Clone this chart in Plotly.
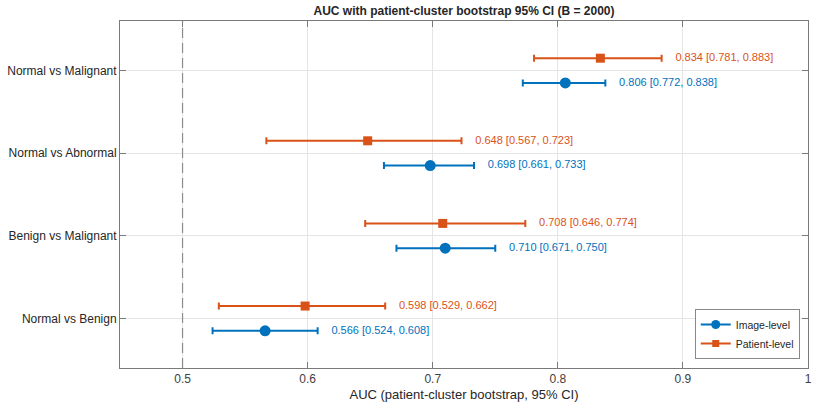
import plotly.graph_objects as go

categories = ["Normal vs Benign", "Benign vs Malignant", "Normal vs Abnormal", "Normal vs Malignant"]
img_auc = [0.566, 0.710, 0.698, 0.806]
img_lo = [0.524, 0.671, 0.661, 0.772]
img_hi = [0.608, 0.750, 0.733, 0.838]
pat_auc = [0.598, 0.708, 0.648, 0.834]
pat_lo = [0.529, 0.646, 0.567, 0.781]
pat_hi = [0.662, 0.774, 0.723, 0.883]
x_ticks = [0.5, 0.6, 0.7, 0.8, 0.9, 1.0]
x_tick_labels = ["0.5", "0.6", "0.7", "0.8", "0.9", "1"]

BLUE = "#0072BD"
ORANGE = "#D95319"
FONT = "Liberation Sans, Arial, Helvetica, sans-serif"

pos = list(range(1, len(categories) + 1))
y_img = [p - 0.15 for p in pos]
y_pat = [p + 0.15 for p in pos]

fig = go.Figure()

def add_series(auc, lo, hi, ys, color, symbol, size, name):
    fig.add_trace(go.Scatter(
        x=auc, y=ys, mode="markers", showlegend=False,
        marker=dict(color=color, symbol=symbol, size=size, line=dict(width=0)),
        error_x=dict(type="data", symmetric=False,
                     array=[h - a for h, a in zip(hi, auc)],
                     arrayminus=[a - l for a, l in zip(auc, lo)],
                     color=color, thickness=2, width=3.5),
        hoverinfo="skip"))
    fig.add_trace(go.Scatter(
        x=[h + 0.011 for h in hi], y=ys, mode="text",
        text=[f"{a:.3f} [{l:.3f}, {h:.3f}]" for a, l, h in zip(auc, lo, hi)],
        textposition="middle right", showlegend=False,
        textfont=dict(color=color, size=11, family=FONT), hoverinfo="skip"))
    fig.add_trace(go.Scatter(
        x=[None], y=[None], mode="lines+markers", name=name,
        line=dict(color=color, width=2),
        marker=dict(color=color, symbol=symbol, size=size - 2)))

add_series(img_auc, img_lo, img_hi, y_img, BLUE, "circle", 11, "Image-level")
add_series(pat_auc, pat_lo, pat_hi, y_pat, ORANGE, "square", 9, "Patient-level")

fig.add_shape(type="line", xref="x", yref="paper", x0=0.5, x1=0.5, y0=0, y1=1,
              line=dict(color="#8c8c8c", width=1.2, dash="10px,5px"), layer="above")

fig.update_layout(
    width=818, height=410,
    margin=dict(l=120, r=10, t=21, b=42, autoexpand=False),
    paper_bgcolor="white", plot_bgcolor="white",
    font=dict(family=FONT, size=11, color="#262626"),
    title=dict(text="<b>AUC with patient-cluster bootstrap 95% CI (B = 2000)</b>",
               x=0.5, xref="paper", xanchor="center",
               y=1 - 11 / 410, yref="container", yanchor="middle",
               font=dict(size=12, color="#262626", family=FONT)),
    legend=dict(x=0.988, y=0.026, xanchor="right", yanchor="bottom",
                bgcolor="white", bordercolor="#888888", borderwidth=1,
                font=dict(size=10.5, family=FONT, color="#262626"),
                tracegroupgap=0, itemwidth=30),
    showlegend=True,
)
fig.update_xaxes(range=[0.45, 1.0], tickvals=x_ticks, ticktext=x_tick_labels,
                 automargin=False,
                 showgrid=True, gridcolor="#e5e5e5", zeroline=False,
                 showline=True, linecolor="#7a7a7a", linewidth=1, mirror="ticks",
                 ticks="inside", ticklen=6, tickcolor="#7a7a7a",
                 tickfont=dict(size=12, color="#404040"),
                 title=dict(text="AUC (patient-cluster bootstrap, 95% CI)",
                            font=dict(size=13, color="#262626"), standoff=4))
fig.update_yaxes(range=[0.4, 4.6], tickvals=pos, ticktext=categories,
                 automargin=False,
                 showgrid=True, gridcolor="#e5e5e5", zeroline=False,
                 showline=True, linecolor="#7a7a7a", linewidth=1, mirror="ticks",
                 ticks="inside", ticklen=6, tickcolor="#7a7a7a",
                 tickfont=dict(size=12, color="#262626"))

fig.write_html("out.html")
